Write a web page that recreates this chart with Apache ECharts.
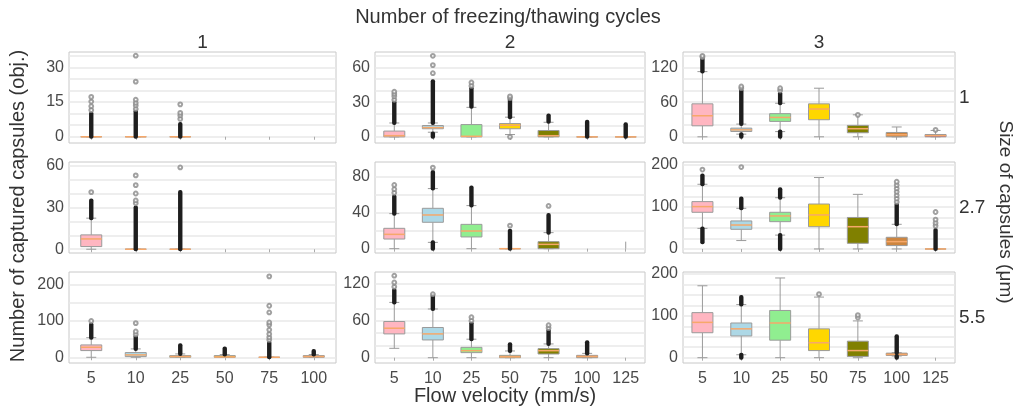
<!DOCTYPE html>
<html>
<head>
<meta charset="utf-8">
<script src="https://cdn.jsdelivr.net/npm/echarts@6/dist/echarts.min.js"></script>
<style>
html, body { margin: 0; padding: 0; background: #fff; }
#chart { width: 1018px; height: 409px; }
</style>
</head>
<body>
<div id="chart"></div>
<script>
var velocities = ['5', '10', '25', '50', '75', '100', '125'];
var cycles = ['1', '2', '3'];
var sizes = ['1', '2.7', '5.5'];

// box stats per velocity: [min whisker, q1, median, q3, max whisker], null = no data
// size 1
var box_s1_c1 = [[0, 0, 0, 0, 0], [0, 0, 0, 0, 0], [0, 0, 0, 0, 0], null, null, null];
var box_s1_c2 = [[0, 0, 1, 5, 12], [4, 7, 8, 9.8, 12], [0, 0, 0.5, 10.6, 25.5], [2, 7, 10, 11.5, 17], [0, 0, 1, 5.5, 12.6], [0, 0, 0, 0, 0], [0, 0, 0, 0, 0]];
var box_s1_c3 = [[0, 19, 36.4, 57, 112.7], [4.6, 9.2, 12, 15, 22], [9, 26.6, 33.5, 40, 58], [0, 29.5, 48, 57, 84], [0, 7, 14, 19.7, 38], [0, 0, 3.5, 7.5, 17], [0, 0, 2, 4, 11]];
// size 2.7
var box_s2_c1 = [[0, 1.9, 7.4, 10.3, 22.3], [0, 0, 0, 0, 0], [0, 0, 0, 0, 0], null, null, null];
var box_s2_c2 = [[0, 10.7, 15.9, 22.6, 38.9], [7, 29.3, 37.4, 44.8, 66.7], [0, 13, 19.6, 27, 47.8], [0, 0, 0, 0, 0], [0, 0, 4.8, 7.8, 17.8], null, null];
var box_s2_c3 = [[49, 87.3, 100.8, 112.7, 154], [20, 46.8, 57, 66.7, 96.8], [33, 65, 78.6, 87.3, 122], [0, 53, 81, 107, 170], [0, 13.5, 53, 75, 130], [0, 8, 17.5, 27.8, 58.7], [0, 0, 0, 0, 0]];
// size 5.5
var box_s3_c1 = [[0, 18.4, 27.6, 34, 54], [0, 1.8, 6.5, 12.9, 23], [0, 0, 2, 4.6, 9.2], [0, 0, 1, 4.6, 7.4], [0, 0, 0, 0, 0], [0, 0, 2, 4.6, 7.4]];
var box_s3_c2 = [[15.2, 38.6, 47.8, 58.7, 89.7], [0, 28.8, 38.6, 49, 79], [0, 8.2, 11.4, 16.8, 30], [0, 0, 1.5, 3.8, 10.9], [0, 6, 11.4, 14.7, 22.3], [0, 0, 2, 3.8, 7], null];
var box_s3_c3 = [[0, 59.7, 84.5, 107.8, 172], [7, 52, 69, 83, 127], [0, 41.9, 83, 113, 190.7], [0, 17, 35.7, 69, 145], [0, 3, 17, 39.5, 88], [4, 5.4, 7.8, 10.9, 12], null];

// dense outlier runs: [velocity, from, to]
var dense_s1_c1 = [['5', 0, 10], ['10', 0, 11], ['25', 0, 5.5]];
var dense_s1_c2 = [['5', 12, 30], ['10', 12, 48], ['10', 0, 3], ['25', 26, 42], ['50', 17, 32], ['75', 13, 18.4], ['100', 0, 13], ['125', 0, 11]];
var dense_s1_c3 = [['5', 113, 135], ['10', 22, 80], ['10', 0, 4.6], ['25', 58, 75], ['25', 0, 9]];
var dense_s2_c1 = [['5', 22.3, 35], ['10', 0, 30], ['25', 0, 41]];
var dense_s2_c2 = [['5', 38.9, 58], ['10', 66.7, 85], ['10', 0, 7], ['25', 47.8, 68], ['50', 0, 20], ['75', 17.8, 37.4]];
var dense_s2_c3 = [['5', 154, 175], ['5', 16, 49], ['10', 96.8, 120], ['25', 122, 142], ['25', 0, 33], ['100', 58.7, 106], ['125', 0, 45]];
var dense_s3_c1 = [['5', 54, 90], ['10', 23, 57], ['25', 9.2, 33], ['50', 7.4, 24], ['75', 0, 40], ['100', 7.4, 17.5]];
var dense_s3_c2 = [['5', 89.7, 110], ['10', 79, 100.5], ['25', 30, 56], ['50', 10.9, 22], ['75', 22.3, 44], ['100', 7, 25]];
var dense_s3_c3 = [['10', 127, 145], ['10', 0, 7], ['100', 12, 51], ['100', 0, 4]];

// single whisker without box
var stem_s2_c2 = [['125', 0, 7.8]];

// separate outliers: [velocity, value]
var out_s1_c1 = [['5', 11.5], ['5', 13.2], ['5', 15.2], ['5', 17.2], ['10', 12], ['10', 13.5], ['10', 14.6], ['10', 16], ['10', 23.8], ['10', 35], ['25', 7.7], ['25', 9.2], ['25', 10.3], ['25', 14]];
var out_s1_c2 = [['5', 32], ['5', 35], ['5', 37], ['5', 39], ['10', 55], ['10', 62], ['10', 70], ['25', 44], ['25', 47], ['50', 0], ['50', 33.5], ['50', 35]];
var out_s1_c3 = [['5', 138], ['5', 140], ['10', 84], ['10', 87], ['25', 80], ['25', 84], ['75', 38], ['125', 12]];
var out_s2_c1 = [['5', 41], ['10', 33], ['10', 35], ['10', 40], ['10', 46], ['10', 53], ['25', 58.7]];
var out_s2_c2 = [['5', 62], ['5', 66], ['5', 70.7], ['10', 90], ['50', 25.6], ['75', 47.4]];
var out_s2_c3 = [['5', 189], ['10', 195], ['100', 112], ['100', 120], ['100', 128], ['100', 136], ['100', 144], ['100', 152], ['100', 160], ['125', 55], ['125', 62], ['125', 70], ['125', 88]];
var out_s3_c1 = [['5', 100], ['10', 63], ['10', 71], ['10', 94], ['75', 48], ['75', 55], ['75', 64], ['75', 75.6], ['75', 89.4], ['75', 96], ['75', 123.5], ['75', 142], ['75', 223]];
var out_s3_c2 = [['5', 115], ['5', 122], ['5', 133], ['10', 103], ['25', 60], ['25', 65.7], ['75', 48], ['75', 52.7]];
var out_s3_c3 = [['50', 152], ['75', 96], ['75', 102]];

// y tick labels per panel
var yTicks_s1 = [[0, 15, 30], [0, 30, 60], [0, 60, 120]];
var yTicks_s2 = [[0, 30, 60], [0, 40, 80], [0, 100, 200]];
var yTicks_s3 = [[0, 100, 200], [0, 60, 120], [0, 100, 200]];

var palette = ['#ffb6c1', '#add8e6', '#90ee90', '#ffd700', '#808000', '#cd853f', '#800080'];
var FONT = 'Liberation Sans, Arial, sans-serif';

// panel layout
var colLeft = [69, 375, 683];
var colWidth = [267, 270, 272];
var rowTop = [52, 162, 272];
var rowHeight = 91;

var panels = [
    {box: box_s1_c1, dense: dense_s1_c1, out: out_s1_c1, ticks: yTicks_s1[0], step: 5, range: [-2.7, 36.6]},
    {box: box_s1_c2, dense: dense_s1_c2, out: out_s1_c2, ticks: yTicks_s1[1], step: 10, range: [-5.3, 73.3]},
    {box: box_s1_c3, dense: dense_s1_c3, out: out_s1_c3, ticks: yTicks_s1[2], step: 20, range: [-10.7, 146.6]},
    {box: box_s2_c1, dense: dense_s2_c1, out: out_s2_c1, ticks: yTicks_s2[0], step: 10, range: [-2.7, 62.6]},
    {box: box_s2_c2, dense: dense_s2_c2, out: out_s2_c2, ticks: yTicks_s2[1], step: 20, range: [-4.8, 96.2], stem: stem_s2_c2},
    {box: box_s2_c3, dense: dense_s2_c3, out: out_s2_c3, ticks: yTicks_s2[2], step: 25, range: [-9.6, 207]},
    {box: box_s3_c1, dense: dense_s3_c1, out: out_s3_c1, ticks: yTicks_s3[0], step: 50, range: [-15.8, 235]},
    {box: box_s3_c2, dense: dense_s3_c2, out: out_s3_c2, ticks: yTicks_s3[1], step: 20, range: [-8.6, 139]},
    {box: box_s3_c3, dense: dense_s3_c3, out: out_s3_c3, ticks: yTicks_s3[2], step: 25, range: [-12.7, 205]}
];

function renderBox(params, api) {
    var c = api.value(0);
    var lo = api.coord([c, api.value(1)]);
    var q1 = api.coord([c, api.value(2)]);
    var md = api.coord([c, api.value(3)]);
    var q3 = api.coord([c, api.value(4)]);
    var hi = api.coord([c, api.value(5)]);
    var x = lo[0], hw = 10.5, cw = 5;
    var ls = {stroke: '#9a9a9a', lineWidth: 1};
    return {
        type: 'group',
        children: [
            {type: 'line', shape: {x1: x, y1: hi[1], x2: x, y2: q3[1]}, style: ls},
            {type: 'line', shape: {x1: x, y1: q1[1], x2: x, y2: lo[1]}, style: ls},
            {type: 'line', shape: {x1: x - cw, y1: hi[1], x2: x + cw, y2: hi[1]}, style: ls},
            {type: 'line', shape: {x1: x - cw, y1: lo[1], x2: x + cw, y2: lo[1]}, style: ls},
            {type: 'rect', shape: {x: x - hw, y: q3[1], width: hw * 2, height: q1[1] - q3[1]},
                style: {fill: palette[c], stroke: '#9a9a9a', lineWidth: 1}},
            {type: 'line', shape: {x1: x - hw, y1: md[1], x2: x + hw, y2: md[1]},
                style: {stroke: '#f6a86a', lineWidth: 1.5}}
        ]
    };
}

function renderDense(params, api) {
    var c = api.value(0);
    var a = api.coord([c, api.value(1)]);
    var b = api.coord([c, api.value(2)]);
    return {
        type: 'rect',
        shape: {x: a[0] - 2.2, y: b[1] - 2, width: 4.4, height: a[1] - b[1] + 4, r: 2},
        style: {fill: '#1e1e1e'}
    };
}

function renderStem(params, api) {
    var c = api.value(0);
    var a = api.coord([c, api.value(1)]);
    var b = api.coord([c, api.value(2)]);
    return {
        type: 'line',
        shape: {x1: a[0], y1: a[1], x2: b[0], y2: b[1]},
        style: {stroke: '#9a9a9a', lineWidth: 1}
    };
}

var grids = [], xAxes = [], yAxes = [], series = [];

panels.forEach(function (p, i) {
    var row = Math.floor(i / 3), col = i % 3;
    var cats = col === 0 ? velocities.slice(0, 6) : velocities;
    grids.push({
        left: colLeft[col], top: rowTop[row], width: colWidth[col], height: rowHeight,
        show: true, borderColor: '#c8c8c8', borderWidth: 1
    });
    var gridVals = [];
    for (var v = 0; v <= p.range[1]; v += p.step) gridVals.push(v);
    xAxes.push({
        gridIndex: i, type: 'category', data: cats,
        axisLine: {show: false},
        axisTick: {show: true, alignWithLabel: true, length: 3, lineStyle: {color: '#aaa'}},
        axisLabel: {show: row === 2, fontSize: 16, color: '#4a4a4a', fontFamily: FONT, margin: 8},
        splitLine: {show: false}
    });
    yAxes.push({
        gridIndex: i, type: 'value', min: p.range[0], max: p.range[1],
        axisLine: {show: false},
        axisTick: {show: false, customValues: gridVals},
        axisLabel: {customValues: p.ticks, fontSize: 16, color: '#4a4a4a', fontFamily: FONT, margin: 5},
        splitLine: {show: true, lineStyle: {color: '#e8e8e8', width: 1.5}}
    });
    var idx = function (name) { return cats.indexOf(name); };
    var boxData = [];
    p.box.forEach(function (b, k) { if (b) boxData.push([k].concat(b)); });
    series.push({
        type: 'custom', xAxisIndex: i, yAxisIndex: i, renderItem: renderBox,
        encode: {x: 0, y: [1, 2, 3, 4, 5]}, data: boxData, z: 2
    });
    series.push({
        type: 'custom', xAxisIndex: i, yAxisIndex: i, renderItem: renderDense,
        encode: {x: 0, y: [1, 2]},
        data: p.dense.map(function (d) { return [idx(d[0]), d[1], d[2]]; }), z: 3
    });
    if (p.stem) {
        series.push({
            type: 'custom', xAxisIndex: i, yAxisIndex: i, renderItem: renderStem,
            encode: {x: 0, y: [1, 2]},
            data: p.stem.map(function (d) { return [idx(d[0]), d[1], d[2]]; }), z: 3
        });
    }
    series.push({
        type: 'scatter', xAxisIndex: i, yAxisIndex: i,
        symbol: 'emptyCircle', symbolSize: 3.8,
        itemStyle: {color: '#8a8a8a', borderWidth: 0.8},
        data: p.out.map(function (d) { return [idx(d[0]), d[1]]; }), z: 4
    });
});

var graphics = [
    {type: 'text', x: 508, y: 17, style: {text: 'Number of freezing/thawing cycles', fontSize: 20, fontFamily: FONT, fill: '#333', align: 'center', verticalAlign: 'middle'}},
    {type: 'text', x: 18, y: 206, rotation: Math.PI / 2, style: {text: 'Number of captured capsules (obj.)', fontSize: 20, fontFamily: FONT, fill: '#333', align: 'center', verticalAlign: 'middle'}},
    {type: 'text', x: 1005, y: 212, rotation: -Math.PI / 2, style: {text: 'Size of capsules (μm)', fontSize: 19, fontFamily: FONT, fill: '#333', align: 'center', verticalAlign: 'middle'}},
    {type: 'text', x: 505, y: 396, style: {text: 'Flow velocity (mm/s)', fontSize: 20, fontFamily: FONT, fill: '#333', align: 'center', verticalAlign: 'middle'}}
];
cycles.forEach(function (c, k) {
    graphics.push({type: 'text', x: colLeft[k] + colWidth[k] / 2, y: 43,
        style: {text: c, fontSize: 19, fontFamily: FONT, fill: '#333', align: 'center', verticalAlign: 'middle'}});
});
sizes.forEach(function (s, k) {
    graphics.push({type: 'text', x: 959, y: rowTop[k] + 46,
        style: {text: s, fontSize: 19, fontFamily: FONT, fill: '#333', align: 'left', verticalAlign: 'middle'}});
});

var chart = echarts.init(document.getElementById('chart'));
chart.setOption({
    animation: false,
    backgroundColor: '#fff',
    grid: grids,
    xAxis: xAxes,
    yAxis: yAxes,
    series: series,
    graphic: graphics
});
</script>
</body>
</html>
